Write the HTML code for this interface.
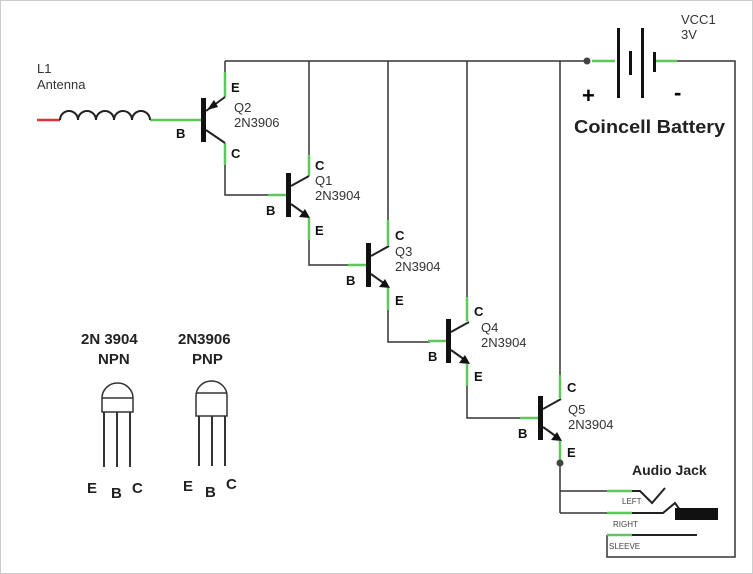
<!DOCTYPE html>
<html><head><meta charset="utf-8"><style>
html,body{margin:0;padding:0;background:#fff;}
svg{display:block;}
text{font-family:"Liberation Sans",sans-serif;}
.b{font-weight:bold;font-size:13px;fill:#111;}
.l{font-size:13px;fill:#333;}
</style></head><body>
<svg width="753" height="574" viewBox="0 0 753 574" xmlns="http://www.w3.org/2000/svg">
<rect x="0.5" y="0.5" width="752" height="573" fill="#fff" stroke="#ccc"/>
<g stroke="#333" stroke-width="1.5" fill="none">
<path d="M225 61 H587"/>
<path d="M656 61 H735 V557 H607 V535"/>
<path d="M309 61 V155 M388 61 V220 M467 61 V297 M560 61 V375"/>
<path d="M225 61 V72 M225 165 V195 H270"/>
<path d="M309 240 V265 H350 M388 310 V342 H430 M467 386 V418 H520"/>
<path d="M560 463 V513 M560 491 H610 M560 513 H610"/>
</g>
<g stroke="#5fc85a" stroke-width="2.5" fill="none">
<path d="M592 61 H615 M656 61 H677"/>
<path d="M150 120 H203 M225 72 V97 M225 143 V165"/>
<path d="M268 195 H288 M309 155 V176 M309 218 V240"/>
<path d="M348 265 H368 M388 220 V245 M388 288 V310"/>
<path d="M428 341 H448 M467 297 V321 M467 364 V386"/>
<path d="M520 418 H540 M560 375 V398 M560 441 V460"/>
<path d="M607 491 H632 M607 513 H632 M607 535 H632"/>
</g>
<path d="M37 120 H60" stroke="#d33" stroke-width="2.5"/>
<path d="M60 120 a9 9 0 0 1 18 0 a9 9 0 0 1 18 0 a9 9 0 0 1 18 0 a9 9 0 0 1 18 0 a9 9 0 0 1 18 0" stroke="#222" stroke-width="2" fill="none"/>
<text x="37" y="73" class="l">L1</text>
<text x="37" y="89" class="l">Antenna</text>
<rect x="201" y="98" width="5" height="44" fill="#111"/>
<path d="M206 111 L225 97 M206 130 L225 143" stroke="#222" stroke-width="2"/>
<polygon points="207,110 214,100 218,107" fill="#111"/>
<text x="231" y="92" class="b">E</text>
<text x="231" y="158" class="b">C</text>
<text x="176" y="138" class="b">B</text>
<text x="234" y="112" class="l">Q2</text>
<text x="234" y="127" class="l">2N3906</text>
<g id="q1">
<rect x="286" y="173" width="5" height="44" fill="#111"/>
<path d="M291 186 L309 176 M291 204 L305 214" stroke="#222" stroke-width="2"/>
<polygon points="310,218 299,217 305,209" fill="#111"/>
</g>
<use href="#q1" transform="translate(80,70)"/>
<use href="#q1" transform="translate(160,146)"/>
<use href="#q1" transform="translate(252,223)"/>
<text x="315" y="170" class="b">C</text><text x="315" y="185" class="l">Q1</text><text x="315" y="200" class="l">2N3904</text>
<text x="315" y="235" class="b">E</text><text x="266" y="215" class="b">B</text>
<text x="395" y="240" class="b">C</text><text x="395" y="256" class="l">Q3</text><text x="395" y="271" class="l">2N3904</text>
<text x="395" y="305" class="b">E</text><text x="346" y="285" class="b">B</text>
<text x="474" y="316" class="b">C</text><text x="481" y="332" class="l">Q4</text><text x="481" y="347" class="l">2N3904</text>
<text x="474" y="381" class="b">E</text><text x="428" y="361" class="b">B</text>
<text x="567" y="392" class="b">C</text><text x="568" y="414" class="l">Q5</text><text x="568" y="429" class="l">2N3904</text>
<text x="567" y="457" class="b">E</text><text x="518" y="438" class="b">B</text>
<circle cx="560" cy="463" r="3.5" fill="#444"/>
<circle cx="587" cy="61" r="3.5" fill="#444"/>
<g fill="#111">
<rect x="617" y="28" width="3" height="70"/>
<rect x="629" y="51" width="3" height="24"/>
<rect x="641" y="28" width="3" height="70"/>
<rect x="653" y="52" width="3" height="20"/>
</g>
<text x="681" y="24" class="l">VCC1</text>
<text x="681" y="39" class="l">3V</text>
<text x="582" y="103" style="font-weight:bold;font-size:22px">+</text>
<text x="674" y="100" style="font-weight:bold;font-size:22px">-</text>
<text x="574" y="133" textLength="151" lengthAdjust="spacingAndGlyphs" style="font-weight:bold;font-size:18px;fill:#222">Coincell Battery</text>
<text x="632" y="475" style="font-weight:bold;font-size:14px;fill:#222">Audio Jack</text>
<g stroke="#222" stroke-width="2" fill="none">
<path d="M632 491 H640 L652 503 L665 488"/>
<path d="M632 513 H663 L675 503 L680 510"/>
<path d="M632 535 H697"/>
</g>
<rect x="675" y="508" width="43" height="12" fill="#111"/>
<text x="622" y="504" style="font-size:8px;fill:#444">LEFT</text>
<text x="613" y="527" style="font-size:8px;fill:#444">RIGHT</text>
<text x="609" y="549" style="font-size:8px;fill:#444">SLEEVE</text>
<text x="81" y="344" style="font-weight:bold;font-size:15px;fill:#222">2N 3904</text>
<text x="98" y="364" style="font-weight:bold;font-size:15px;fill:#222">NPN</text>
<text x="178" y="344" style="font-weight:bold;font-size:15px;fill:#222">2N3906</text>
<text x="192" y="364" style="font-weight:bold;font-size:15px;fill:#222">PNP</text>
<g stroke="#333" stroke-width="1.5" fill="#fff">
<path d="M102 398 A15.5 15 0 0 1 133 398 V412 H102 Z"/>
<path d="M102 398 H133"/>
<path d="M104 412 V467 M117 412 V467 M130 412 V467" stroke-width="2"/>
<path d="M196 396 A15.5 15 0 0 1 227 396 V416 H196 Z"/>
<path d="M196 393 H227"/>
<path d="M199 416 V466 M212 416 V466 M225 416 V466" stroke-width="2"/>
</g>
<text x="87" y="493" style="font-weight:bold;font-size:15px;fill:#222">E</text>
<text x="111" y="498" style="font-weight:bold;font-size:15px;fill:#222">B</text>
<text x="132" y="493" style="font-weight:bold;font-size:15px;fill:#222">C</text>
<text x="183" y="491" style="font-weight:bold;font-size:15px;fill:#222">E</text>
<text x="205" y="497" style="font-weight:bold;font-size:15px;fill:#222">B</text>
<text x="226" y="489" style="font-weight:bold;font-size:15px;fill:#222">C</text>
</svg>
</body></html>
